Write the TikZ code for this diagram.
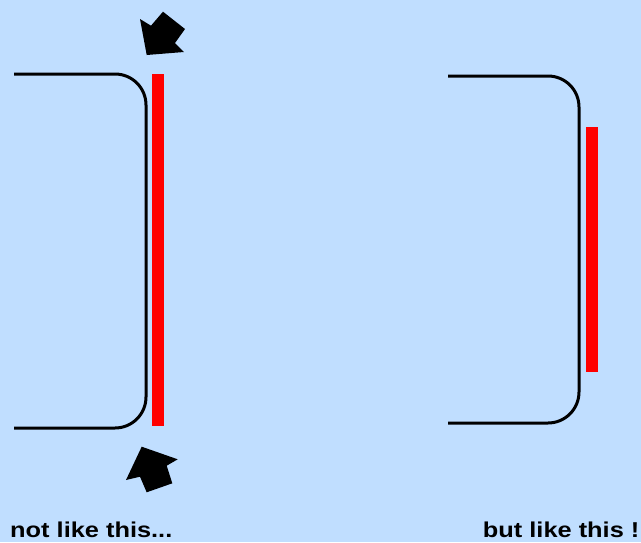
\documentclass[tikz,border=0pt]{standalone}
\usepackage{fontspec}
\setmainfont{Liberation Sans}
\definecolor{bgblue}{RGB}{192,222,255}
\definecolor{barred}{RGB}{255,0,0}
\tikzset{
  x=1pt,y=-1pt,
  outline/.style={draw=black,line width=3pt,rounded corners=31pt},
  bar/.style={fill=barred,draw=none},
  blockarrow/.style={fill=black,draw=none},
  caption/.style={anchor=base west,inner sep=0pt,font=\fontsize{21.5}{21.5}\selectfont\bfseries,xscale=1.18,transform shape}
}
\begin{document}
\begin{tikzpicture}
\fill[bgblue] (0,0) rectangle (641,542);
\useasboundingbox (0,0) rectangle (641,542);
% left
\draw[outline] (14,74) -- (146,74) -- (146,428) -- (14,428);
\fill[bar] (152,74) rectangle (164,426);
\fill[blockarrow] (146.7,55) -- (140,19) -- (151,25.7) -- (163,11.7) -- (185,29) -- (175,43) -- (184,52) -- cycle;
\fill[blockarrow] (141.7,446.7) -- (177.7,459.3) -- (166.7,465.7) -- (172.3,483.3) -- (146.7,492.3) -- (140,476.7) -- (126,480) -- cycle;
% right
\draw[outline] (448,76) -- (579,76) -- (579,423) -- (448,423);
\fill[bar] (586,127) rectangle (598,372);
% captions
\node[caption] (cap1) at (10,537.5) {not like this...};
\node[caption] (cap2) at (482.7,537.5) {but like this !};
\end{tikzpicture}
\end{document}
